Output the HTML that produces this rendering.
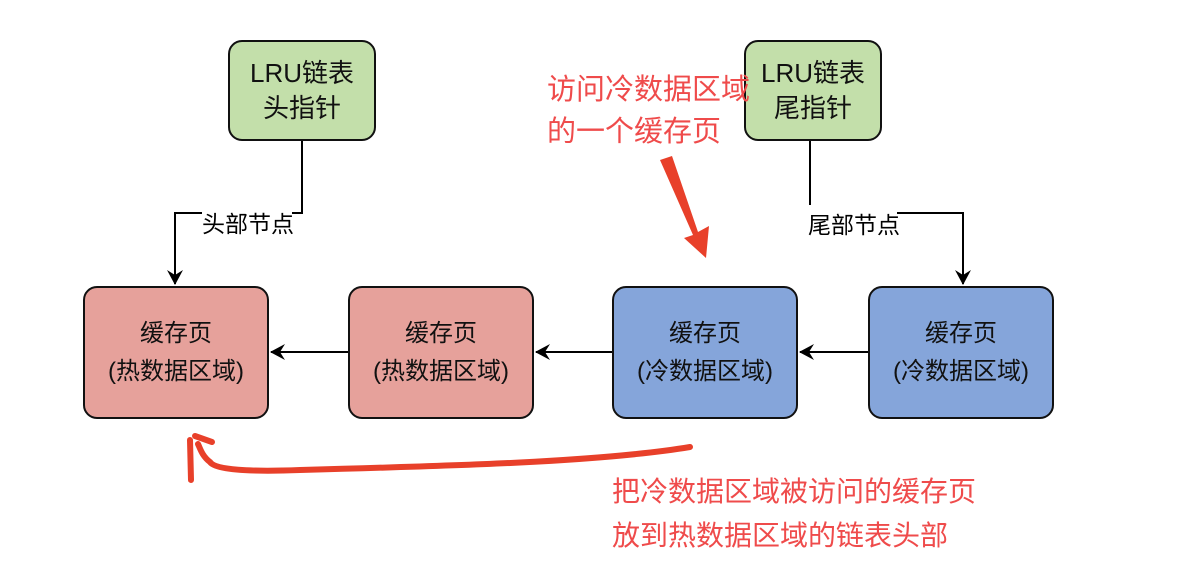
<!DOCTYPE html>
<html><head><meta charset="utf-8"><style>
body{margin:0;width:1199px;height:585px;background:#fff;overflow:hidden;position:relative;font-family:"Liberation Sans","Noto Sans CJK SC",sans-serif}
.b{position:absolute;border:2px solid #111;border-radius:14px;box-sizing:border-box;display:flex;align-items:center;justify-content:center;text-align:center;color:#111}
.g{background:#c3dfaa;font-size:26px;line-height:35px}
.p{background:#e6a19b;font-size:24px;line-height:38px}
.c{background:#85a5da;font-size:24px;line-height:38px}
.t{position:absolute;white-space:nowrap}
.r{color:#ef4b4b;font-size:29px;line-height:42px}
</style></head><body>
<svg width="1199" height="585" style="position:absolute;left:0;top:0">
<defs><marker id="a" markerWidth="16" markerHeight="16" refX="14" refY="8" orient="auto" markerUnits="userSpaceOnUse"><path d="M0,0 L15,8 L0,16 L5,8z" fill="#000"/></marker></defs>
<g stroke="#000" stroke-width="2" fill="none">
<polyline points="302,140 302,213 292,213"/>
<polyline points="202,213 175,213 175,284" marker-end="url(#a)"/>
<polyline points="810,140 810,205"/>
<polyline points="897,213 963,213 963,284" marker-end="url(#a)"/>
<line x1="349" y1="352" x2="271" y2="352" marker-end="url(#a)"/>
<line x1="612" y1="352" x2="536" y2="352" marker-end="url(#a)"/>
<line x1="868" y1="352" x2="800" y2="352" marker-end="url(#a)"/>
</g>
<g stroke="#e8402a" stroke-linecap="round" fill="none" stroke-width="6">
<path d="M690,447 C600,462 450,466 300,470 C250,472 215,470 210,462 C202,456 200,448 198,444"/>
<path d="M190,440 L191,480"/>
<path d="M195,436 L212,442"/>
</g>
<path d="M660,160 L672,156 L698,232 L709,226 L706,258 L684,238 L693,235z" fill="#e8402a"/>
</svg>
<div class="b g" style="left:228px;top:40px;width:148px;height:101px">LRU链表<br>头指针</div>
<div class="b g" style="left:744px;top:40px;width:138px;height:101px">LRU链表<br>尾指针</div>
<div class="b p" style="left:83px;top:286px;width:186px;height:133px">缓存页<br>(热数据区域)</div>
<div class="b p" style="left:348px;top:286px;width:186px;height:133px">缓存页<br>(热数据区域)</div>
<div class="b c" style="left:612px;top:286px;width:186px;height:133px">缓存页<br>(冷数据区域)</div>
<div class="b c" style="left:868px;top:286px;width:186px;height:133px">缓存页<br>(冷数据区域)</div>
<div class="t" style="left:202px;top:205px;font-size:23px">头部节点</div>
<div class="t" style="left:808px;top:206px;font-size:23px">尾部节点</div>
<div class="t r" style="left:547px;top:69px">访问冷数据区域<br>的一个缓存页</div>
<div class="t r" style="left:612px;top:470px;font-size:28px;line-height:44px">把冷数据区域被访问的缓存页<br>放到热数据区域的链表头部</div>
</body></html>
